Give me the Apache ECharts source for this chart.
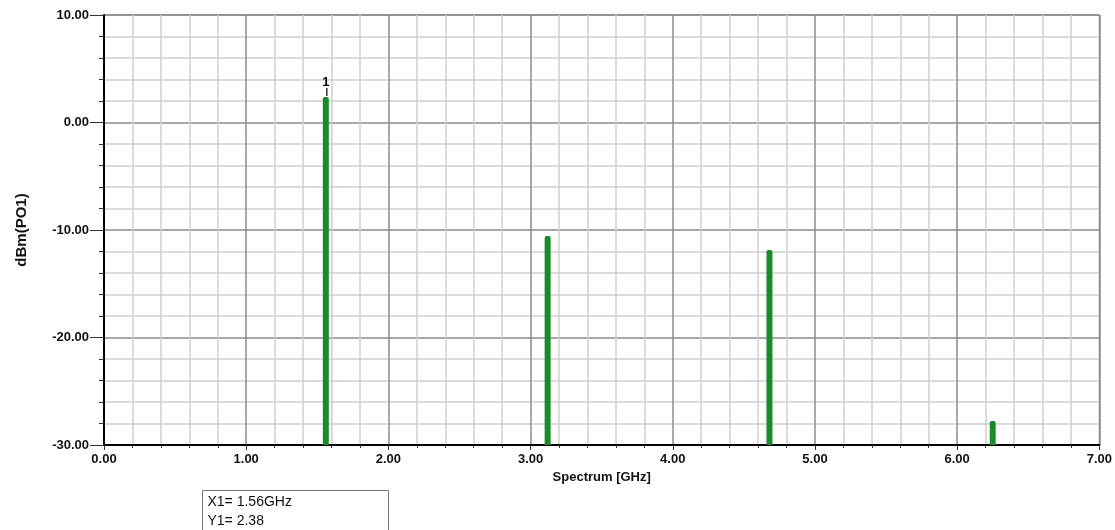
<!DOCTYPE html>
<html>
<head>
<meta charset="utf-8">
<script src="https://cdn.jsdelivr.net/npm/echarts@6/dist/echarts.min.js"></script>
<style>html,body{margin:0;padding:0;background:#fff}#c{width:1115px;height:530px}</style>
</head>
<body>
<div id="c"></div>
<script>
var freqs = [1.56, 3.12, 4.68, 6.25];
var powers = [2.38, -10.56, -11.86, -27.77];
var markerLabels = ['1', '', '', ''];
var xTitle = 'Spectrum [GHz]';
var yTitle = 'dBm(PO1)';
var markerText = ['X1= 1.56GHz', 'Y1= 2.38'];
var yMin = -30, yMax = 10, xMin = 0, xMax = 7;

var data = freqs.map(function (f, i) { return [f, powers[i], markerLabels[i]]; });
var font = 'Arial, "Liberation Sans", sans-serif';

var chart = echarts.init(document.getElementById('c'));
chart.setOption({
  animation: false,
  backgroundColor: '#fff',
  grid: { left: 104, right: 14, top: 15, bottom: 85, show: true, borderColor: '#555', borderWidth: 1 },
  xAxis: {
    type: 'value', min: xMin, max: xMax, interval: 1,
    name: xTitle, nameLocation: 'middle', nameGap: 26,
    nameTextStyle: { fontFamily: font, fontWeight: 'bold', fontSize: 13, color: '#111' },
    axisLine: { show: true, onZero: false, lineStyle: { color: '#000', width: 2 } },
    axisTick: { show: true, length: 5, lineStyle: { color: '#333' } },
    minorTick: { show: true, splitNumber: 5, length: 3, lineStyle: { color: '#333' } },
    axisLabel: { formatter: function (v) { return v.toFixed(2); }, fontFamily: font, fontWeight: 'bold', fontSize: 13, color: '#111', margin: 8 },
    splitLine: { show: true, lineStyle: { color: '#8c8c8c', width: 1.5 } },
    minorSplitLine: { show: true, lineStyle: { color: '#cfcfcf', width: 1.5 } }
  },
  yAxis: {
    type: 'value', min: yMin, max: yMax, interval: 10,
    name: yTitle, nameLocation: 'middle', nameGap: 75, nameRotate: 90,
    nameTextStyle: { fontFamily: font, fontWeight: 'bold', fontSize: 15, color: '#111' },
    axisLine: { show: true, onZero: false, lineStyle: { color: '#000', width: 2 } },
    axisTick: { show: true, length: 14, lineStyle: { color: '#333' } },
    minorTick: { show: true, splitNumber: 5, length: 5, lineStyle: { color: '#333' } },
    axisLabel: { formatter: function (v) { return v.toFixed(2); }, fontFamily: font, fontWeight: 'bold', fontSize: 13, color: '#111', margin: 15 },
    splitLine: { show: true, lineStyle: { color: '#8c8c8c', width: 1.5 } },
    minorSplitLine: { show: true, lineStyle: { color: '#cfcfcf', width: 1.5 } }
  },
  series: [{
    type: 'custom',
    data: data,
    encode: { x: 0, y: 1 },
    renderItem: function (params, api) {
      var top = api.coord([api.value(0), api.value(1)]);
      var base = api.coord([api.value(0), yMin]);
      var w = 6;
      var children = [{
        type: 'rect',
        shape: { x: top[0] - w / 2, y: top[1], width: w, height: base[1] - top[1], r: [2, 2, 0, 0] },
        style: { fill: '#1b8a2b' }
      }];
      var lbl = api.value(2);
      if (lbl) {
        children.push({
          type: 'text',
          style: { text: String(lbl), x: top[0], y: top[1] - 8, align: 'center', verticalAlign: 'bottom', fill: '#000', font: 'bold 13px ' + font }
        });
        children.push({
          type: 'line',
          shape: { x1: top[0] + 1, y1: top[1] - 9, x2: top[0] + 1, y2: top[1] - 1 },
          style: { stroke: '#333', lineWidth: 1.5 }
        });
      }
      return { type: 'group', children: children };
    },
    z: 5
  }],
  graphic: [{
    type: 'group', left: 202, top: 490,
    children: [
      { type: 'rect', shape: { x: 0, y: 0, width: 186, height: 50 }, style: { fill: '#fff', stroke: '#777', lineWidth: 1 } },
      { type: 'text', style: { text: markerText[0], x: 5, y: 12, verticalAlign: 'middle', font: '14px ' + font, fill: '#111' } },
      { type: 'text', style: { text: markerText[1], x: 5, y: 31, verticalAlign: 'middle', font: '14px ' + font, fill: '#111' } }
    ]
  }]
});
</script>
</body>
</html>
